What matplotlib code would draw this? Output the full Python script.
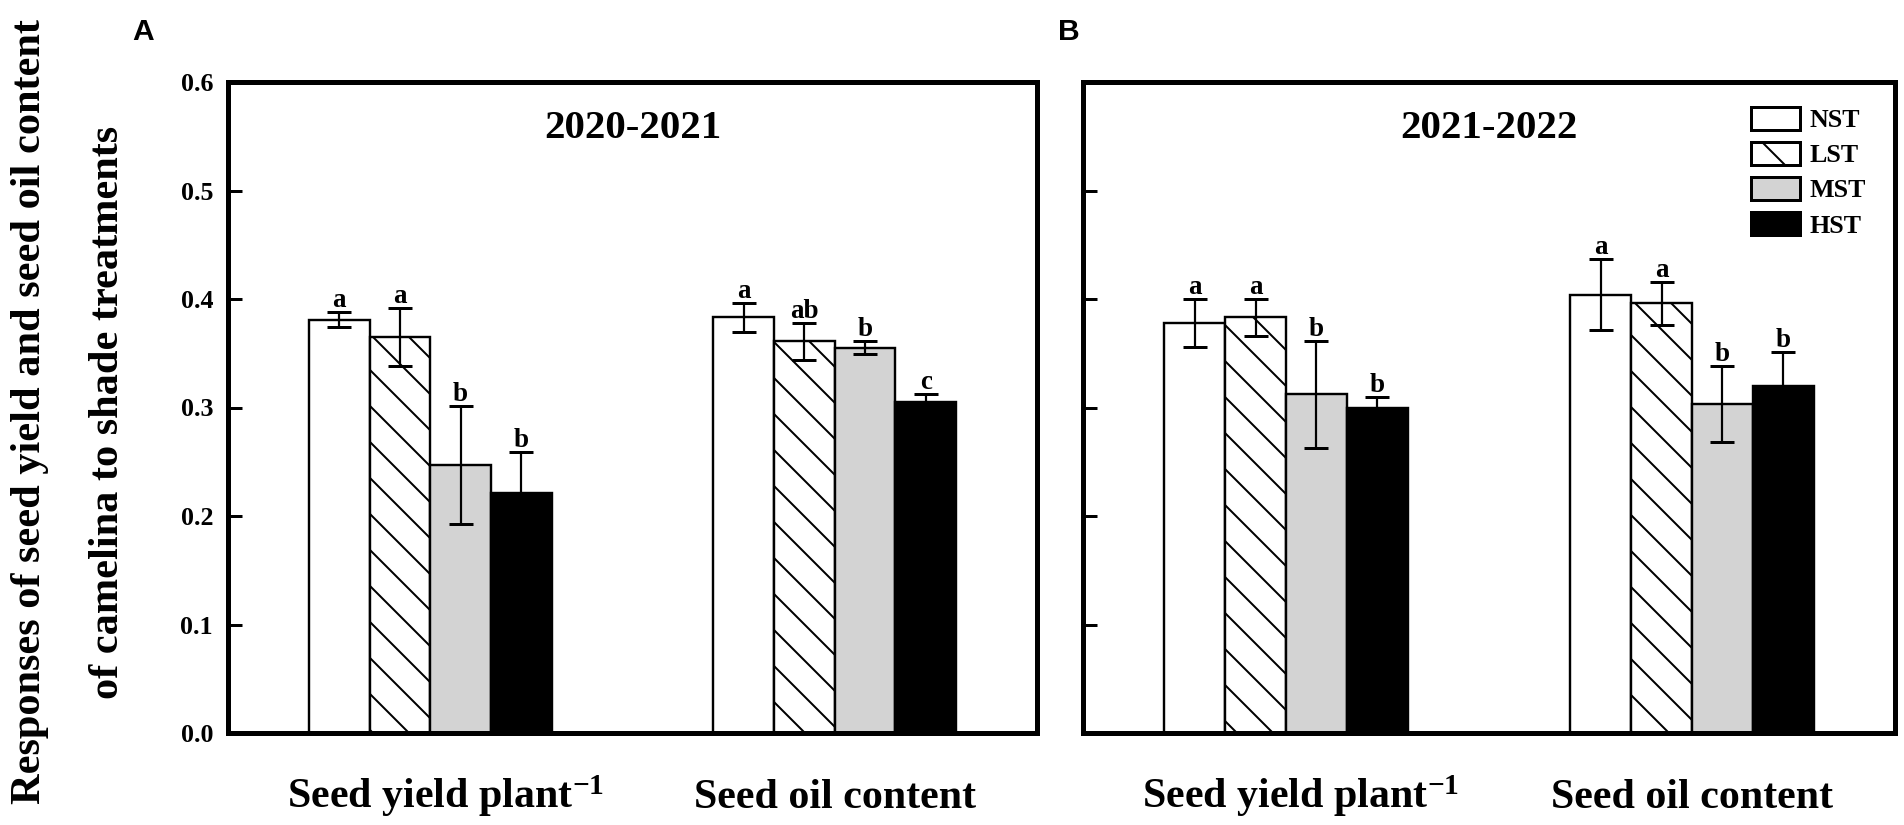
import matplotlib
matplotlib.use("Agg")
import matplotlib.pyplot as plt
import matplotlib.transforms as mtransforms
from matplotlib.patches import Patch
from matplotlib.font_manager import FontProperties
import numpy as np

# ---------------- data ----------------
categories = ["Seed yield plant$^{-1}$", "Seed oil content"]
treatments = ["NST", "LST", "MST", "HST"]
yticks = [0.0, 0.1, 0.2, 0.3, 0.4, 0.5, 0.6]
panel_titles = ["2020-2021", "2021-2022"]
panel_tags = ["A", "B"]

# 2020-2021 (panel A): values per treatment for [seed yield, oil content]
nst_2021 = [0.381, 0.383]
lst_2021 = [0.365, 0.361]
mst_2021 = [0.247, 0.355]
hst_2021 = [0.221, 0.305]
nst_2021_err = [0.007, 0.013]
lst_2021_err = [0.027, 0.017]
mst_2021_err = [0.054, 0.006]
hst_2021_err = [0.038, 0.007]
nst_2021_let = ["a", "a"]
lst_2021_let = ["a", "ab"]
mst_2021_let = ["b", "b"]
hst_2021_let = ["b", "c"]

# 2021-2022 (panel B)
nst_2122 = [0.378, 0.404]
lst_2122 = [0.383, 0.396]
mst_2122 = [0.312, 0.303]
hst_2122 = [0.300, 0.320]
nst_2122_err = [0.022, 0.033]
lst_2122_err = [0.017, 0.020]
mst_2122_err = [0.049, 0.035]
hst_2122_err = [0.010, 0.031]
nst_2122_let = ["a", "a"]
lst_2122_let = ["a", "a"]
mst_2122_let = ["b", "b"]
hst_2122_let = ["b", "b"]

# ---------------- style ----------------
DPI = 108
W, H = 1904, 825


def pt(px):
    return px * 72.0 / DPI


plt.rcParams["hatch.linewidth"] = pt(2.0)
plt.rcParams["mathtext.fontset"] = "custom"
plt.rcParams["mathtext.rm"] = "Liberation Serif:bold"
plt.rcParams["mathtext.bf"] = "Liberation Serif:bold"
plt.rcParams["mathtext.it"] = "Liberation Serif:bold"
plt.rcParams["mathtext.default"] = "bf"

SERIF = "Liberation Serif"
face_colors = ["white", "white", "#d3d3d3", "black"]
hatches = ["", "\\", "", ""]

fig = plt.figure(figsize=(W / DPI, H / DPI), dpi=DPI)
ax_bottom = 733
ax_top = 82
ax_h = (ax_bottom - ax_top) / H
axA = fig.add_axes([228 / W, (H - ax_bottom) / H, (1037 - 228) / W, ax_h])
axB = fig.add_axes([1083 / W, (H - ax_bottom) / H, (1895 - 1083) / W, ax_h])

panels = [
    (axA,
     [nst_2021, lst_2021, mst_2021, hst_2021],
     [nst_2021_err, lst_2021_err, mst_2021_err, hst_2021_err],
     [nst_2021_let, lst_2021_let, mst_2021_let, hst_2021_let]),
    (axB,
     [nst_2122, lst_2122, mst_2122, hst_2122],
     [nst_2122_err, lst_2122_err, mst_2122_err, hst_2122_err],
     [nst_2122_let, lst_2122_let, mst_2122_let, hst_2122_let]),
]

centers = np.array([0.5, 1.5])
width = 0.15

for pi, (ax, means, errs, lets) in enumerate(panels):
    for i, t in enumerate(treatments):
        xs = centers + (i - 1.5) * width
        ax.bar(xs, means[i], width, color=face_colors[i], edgecolor="black",
               linewidth=pt(2.4), hatch=hatches[i], zorder=2, label=t)
        ax.errorbar(xs, means[i], yerr=errs[i], fmt="none", ecolor="black",
                    elinewidth=pt(2.2), capsize=pt(12), capthick=pt(3), zorder=3)
        for x, m, e, l in zip(xs, means[i], errs[i], lets[i]):
            ax.annotate(l, (x, m + e), xytext=(0, pt(5)), textcoords="offset points",
                        ha="center", va="baseline", fontsize=pt(27),
                        family=SERIF, weight="bold", zorder=4)

    ax.set_xlim(0, 2)
    ax.set_ylim(0, 0.6)
    ax.set_yticks(yticks)
    ax.set_xticks([])
    for sp in ax.spines.values():
        sp.set_linewidth(pt(5))
        sp.set_zorder(5)
    ax.tick_params(axis="y", direction="in", length=pt(14), width=pt(3), pad=pt(15))
    if pi == 0:
        ax.set_yticklabels([f"{v:.1f}" for v in yticks])
        for lab in ax.get_yticklabels():
            lab.set_fontfamily(SERIF)
            lab.set_fontweight("bold")
            lab.set_fontsize(pt(26))
    else:
        ax.set_yticklabels([])

    # panel title
    ax.text(0.5, 1 - (137.6 - ax_top) / (ax_bottom - ax_top), panel_titles[pi],
            transform=ax.transAxes, ha="center", va="baseline",
            fontsize=pt(41), family=SERIF, weight="bold")

    # category labels
    trans = mtransforms.blended_transform_factory(ax.transData, ax.transAxes)
    ybase = -75 / (ax_bottom - ax_top)
    for ci, cat in enumerate(categories):
        shift = 15 if "$" in cat else 0
        tr = trans + mtransforms.ScaledTranslation(shift / DPI, 0, fig.dpi_scale_trans)
        ax.text(centers[ci], ybase, cat, transform=tr, ha="center", va="baseline",
                fontsize=pt(42), family=SERIF, weight="bold")

# legend in panel B
handles = [Patch(facecolor=face_colors[i], edgecolor="black", hatch=hatches[i],
                 linewidth=pt(3)) for i in range(4)]
fs = 26
axB.legend(handles, treatments, loc="upper left",
           bbox_to_anchor=(1751 / W, 1 - 107 / H), bbox_transform=fig.transFigure,
           frameon=False, prop=FontProperties(family=SERIF, weight="bold", size=pt(fs)),
           handlelength=49 / fs, handleheight=25 / fs, handletextpad=10 / fs,
           labelspacing=0.38, borderpad=0, borderaxespad=0)

# y-axis label (two centred lines)
fig.text(30 / W, 1 - 412 / H, "Responses of seed yield and seed oil content",
         rotation=90, ha="center", va="center", fontsize=pt(42.4),
         family=SERIF, weight="bold")
fig.text(108 / W, 1 - 412 / H, "of camelina to shade treatments",
         rotation=90, ha="center", va="center", fontsize=pt(42.4),
         family=SERIF, weight="bold")

# panel tags
fig.text(132 / W, 1 - 40 / H, panel_tags[0], ha="left", va="baseline",
         fontsize=pt(30), family="Liberation Sans", weight="bold")
fig.text(1058 / W, 1 - 40 / H, panel_tags[1], ha="left", va="baseline",
         fontsize=pt(30), family="Liberation Sans", weight="bold")

fig.savefig("out.png", dpi=DPI)
